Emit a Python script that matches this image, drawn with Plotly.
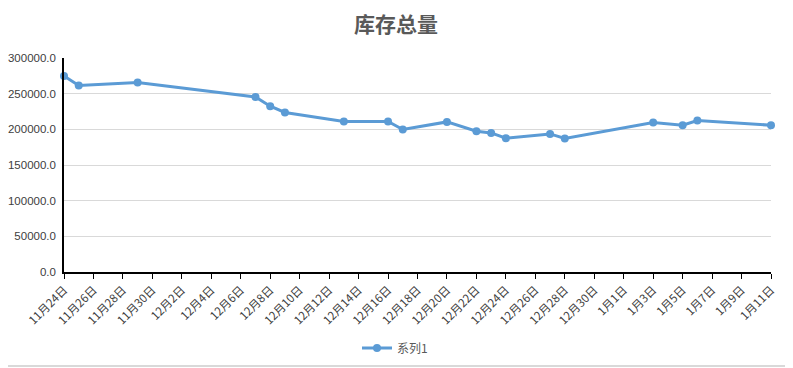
import plotly.graph_objects as go
from datetime import date, timedelta

dates = ["2019-11-24", "2019-11-25", "2019-11-29", "2019-12-07", "2019-12-08",
         "2019-12-09", "2019-12-13", "2019-12-16", "2019-12-17", "2019-12-20",
         "2019-12-22", "2019-12-23", "2019-12-24", "2019-12-27", "2019-12-28",
         "2020-01-03", "2020-01-05", "2020-01-06", "2020-01-11"]
values = [274800, 261400, 265600, 245400, 232400,
          223600, 211000, 211000, 199800, 210400,
          197400, 195000, 187600, 193600, 187200,
          209600, 205800, 212400, 205800]

series_name = "系列1"
title_text = "库存总量"
y_ticks = [0, 50000, 100000, 150000, 200000, 250000, 300000]

start = date(2019, 11, 24)
tick_dates = [start + timedelta(days=2 * i) for i in range(25)]
tick_vals = [d.isoformat() for d in tick_dates]
tick_text = [f"{d.month}月{d.day}日" for d in tick_dates]

# page has an 8px body margin; figure is sized to fit the window
W, H = 785, 360
L, R, T, B = 56, 22, 50, 96
pw, ph = W - L - R, H - T - B

fig = go.Figure()
fig.add_trace(go.Scatter(
    x=dates, y=values, mode="lines+markers", name=series_name,
    line=dict(color="#5B9BD5", width=3),
    marker=dict(color="#5B9BD5", size=8),
    cliponaxis=False,
))

fig.update_layout(
    width=W, height=H,
    margin=dict(l=L, r=R, t=T, b=B, autoexpand=False),
    paper_bgcolor="white", plot_bgcolor="white",
    title=dict(text="<b>" + title_text + "</b>", x=(396 - 8 - L) / pw, xref="paper",
               xanchor="center", y=1 - 17 / H, yanchor="middle",
               font=dict(family="Noto Sans CJK SC", size=21, color="#595959")),
    font=dict(family="Noto Sans CJK SC, Liberation Sans", color="#404040"),
    showlegend=True,
    legend=dict(orientation="h", x=(395 - 8 - L) / pw, xanchor="center",
                y=-(340 - (H - B)) / ph, yanchor="middle",
                font=dict(size=12, color="#595959")),
    xaxis=dict(
        type="date", range=["2019-11-24", "2020-01-11"], automargin=False,
        tickmode="array", tickvals=tick_vals, ticktext=tick_text,
        tickangle=-45, ticks="outside", ticklen=5, tickcolor="black",
        showline=True, linecolor="black", linewidth=1.5,
        showgrid=False, zeroline=False,
        tickfont=dict(size=11.5, color="#404040", family="Noto Sans CJK SC"),
    ),
    yaxis=dict(
        range=[0, 300000], tickmode="array", tickvals=y_ticks, automargin=False,
        tickformat=".1f", showline=True, linecolor="black", linewidth=1.5,
        showgrid=True, gridcolor="#D9D9D9", gridwidth=1, zeroline=False,
        ticks="", ticklabelstandoff=4,
        tickfont=dict(size=11.5, color="#404040", family="Liberation Sans"),
    ),
)

# right and bottom border of the chart frame
fig.add_shape(type="line", xref="paper", yref="paper",
              x0=(W - 3 - L) / pw, x1=(W - 3 - L) / pw,
              y0=-(H - 2 - (H - B)) / ph, y1=(H - B) / ph,
              line=dict(color="#D9D9D9", width=2), layer="below")
fig.add_shape(type="line", xref="paper", yref="paper",
              x0=-L / pw, x1=(W - 3 - L) / pw,
              y0=-(H - 2 - (H - B)) / ph, y1=-(H - 2 - (H - B)) / ph,
              line=dict(color="#D9D9D9", width=2), layer="below")

fig.write_html("out.html")
